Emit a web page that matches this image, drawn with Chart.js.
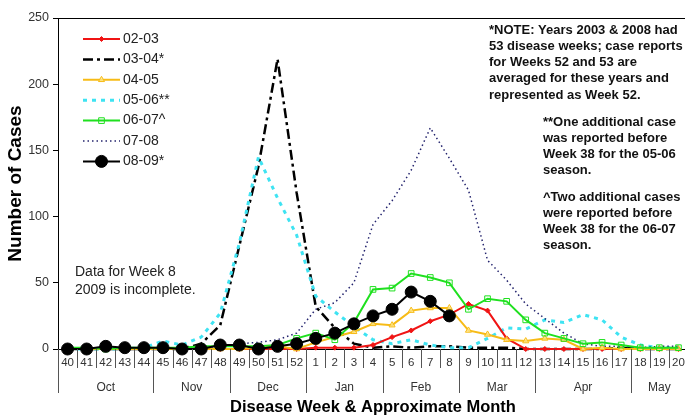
<!DOCTYPE html>
<html>
<head>
<meta charset="utf-8">
<script src="https://cdn.jsdelivr.net/npm/chart.js@4.4.1/dist/chart.umd.min.js"></script>
<style>
  html, body { margin: 0; padding: 0; background: #fff; overflow: hidden; }
  #wrap { width: 695px; height: 417px; }
</style>
</head>
<body>
<div id="wrap"><canvas id="casesChart" width="695" height="417"></canvas></div>
<script>
// disease weeks 40..52 then 1..20
const weeks = ['40','41','42','43','44','45','46','47','48','49','50','51','52',
               '1','2','3','4','5','6','7','8','9','10','11','12','13','14','15','16','17','18','19','20'];
const monthNames = ['Oct', 'Nov', 'Dec', 'Jan', 'Feb', 'Mar', 'Apr', 'May'];
const monthSpans = [5, 4, 4, 4, 4, 4, 5, 3];   // weeks per month group

const s0203 = [0,0,0,0,0,0,0,0,0,0,0,0,0, 1,1,1,3,9,14,21,26,34,29,8,0,0,0,0,0,0,0,0,0];
const s0304 = [0,0,0,0,0,0,0,4,18,78,138,219,118, 32,16,4,1,2,1,2,2,1,1,1,0,0,0,0,0,1,0,0,0];
const s0405 = [0,0,0,0,0,0,0,0,0,0,1,2,0, 5,9,13,19,18,29,31,31,14,11,7,6,8,7,0,1,0,0,0,0];
const s0506 = [0,0,0,0,1,6,3,9,27,80,145,114,86, 40,28,17,7,4,7,3,1,1,8,16,15,22,20,26,22,9,3,1,1];
const s0607 = [1,1,0,1,1,1,1,2,2,2,2,3,8, 12,7,20,45,46,57,54,50,30,38,36,22,12,8,4,5,3,1,1,1];
const s0708 = [0,0,0,0,0,0,1,1,2,4,5,7,12, 30,35,50,94,112,135,167,144,120,67,52,34,23,12,4,2,2,1,2,2];
const s0809 = [0,0,2,1,1,1,0,0,3,3,0,2,4, 8,12,19,25,30,43,36,25,null,null,null,null,null,null,null,null,null,null,null,null];

const noteMain = ['*NOTE: Years 2003 & 2008 had', '53 disease weeks; case reports',
                  'for Weeks 52 and 53 are', 'averaged for these years and', 'represented as Week 52.'];
const note0506 = ['**One additional case', 'was reported before', 'Week 38 for the 05-06', 'season.'];
const note0607 = ['^Two additional cases', 'were reported before', 'Week 38 for the 06-07', 'season.'];
const noteWeek8 = ['Data for Week 8', '2009 is incomplete.'];

const FONT = 'Arial, "Liberation Sans", Helvetica, sans-serif';

function drawLines(ctx, lines, x, y, step) {
    lines.forEach((t, i) => ctx.fillText(t, x, y + i * step));
}

// month row, dividers, top border, notes and the legend inside the plot
const decorPlugin = {
    id: 'decor',
    afterDraw(chart) {
        const ctx = chart.ctx;
        const area = chart.chartArea;
        const xs = chart.scales.x;
        const half = (xs.getPixelForValue(1) - xs.getPixelForValue(0)) / 2;
        const edge = i => xs.getPixelForValue(i) - half;
        ctx.save();

        // top border
        ctx.strokeStyle = '#000';
        ctx.lineWidth = 1;
        ctx.beginPath();
        ctx.moveTo(area.left, area.top + 0.5);
        ctx.lineTo(area.right, area.top + 0.5);
        ctx.stroke();

        // week dividers + month separators
        const monthEdges = [0];
        monthSpans.forEach(n => monthEdges.push(monthEdges[monthEdges.length - 1] + n));
        ctx.strokeStyle = '#555';
        for (let i = 0; i <= weeks.length; i++) {
            const x = Math.round(edge(i)) + 0.5;
            const long = monthEdges.includes(i);
            ctx.beginPath();
            ctx.moveTo(x, area.bottom);
            ctx.lineTo(x, area.bottom + (long ? 44 : 19));
            ctx.stroke();
        }

        // month labels
        ctx.fillStyle = '#333';
        ctx.font = '12px ' + FONT;
        ctx.textAlign = 'center';
        ctx.textBaseline = 'middle';
        monthNames.forEach((m, k) => {
            ctx.fillText(m, (edge(monthEdges[k]) + edge(monthEdges[k + 1])) / 2, area.bottom + 39);
        });

        // notes
        ctx.textAlign = 'left';
        ctx.fillStyle = '#111';
        ctx.font = 'bold 13px ' + FONT;
        drawLines(ctx, noteMain, 489, 30, 16.25);
        drawLines(ctx, note0506, 543, 122, 16.25);
        drawLines(ctx, note0607, 543, 197, 16.25);
        ctx.font = '14px ' + FONT;
        ctx.fillStyle = '#222';
        drawLines(ctx, noteWeek8, 75, 272, 18);

        // legend
        const lx = area.left + 25, ly = area.top + 21;
        chart.data.datasets.forEach((ds, i) => {
            const y = ly + i * 20.4;
            ctx.strokeStyle = ds.borderColor;
            ctx.lineWidth = ds.borderWidth;
            ctx.setLineDash(ds.borderDash || []);
            ctx.beginPath();
            ctx.moveTo(lx, y);
            ctx.lineTo(lx + 37, y);
            ctx.stroke();
            ctx.setLineDash([]);
            if (ds.pointRadius > 0) {
                ctx.fillStyle = ds.pointBackgroundColor;
                ctx.strokeStyle = ds.pointBorderColor;
                ctx.lineWidth = ds.pointBorderWidth;
                Chart.helpers.drawPoint(ctx, {
                    pointStyle: ds.pointStyle, rotation: 0,
                    radius: ds.pointRadius, borderWidth: ds.pointBorderWidth
                }, lx + 18.5, y);
            }
            ctx.fillStyle = '#222';
            ctx.font = '14px ' + FONT;
            ctx.textBaseline = 'middle';
            ctx.fillText(ds.label, lx + 40, y);
        });
        ctx.restore();
    }
};

function series(label, data, color, width, dash, style, radius, fill, order) {
    return {
        label: label, data: data, borderColor: color, borderWidth: width, borderDash: dash,
        pointStyle: style, pointRadius: radius, pointHoverRadius: radius,
        pointBackgroundColor: fill, pointBorderColor: color, pointBorderWidth: 1,
        tension: 0, fill: false, clip: false, order: order, spanGaps: false
    };
}

new Chart(document.getElementById('casesChart'), {
    type: 'line',
    data: {
        labels: weeks,
        datasets: [
            series('02-03', s0203, '#f01414', 2, [], 'rectRot', 2.5, '#f01414', 3),
            series('03-04*', s0304, '#000000', 2.5, [10, 4, 3, 4], 'circle', 0, '#000', 6),
            series('04-05', s0405, '#f7bb16', 2, [], 'triangle', 3.5, 'rgba(255,235,150,0.7)', 2),
            series('05-06**', s0506, '#3ee3f2', 3, [4, 5], 'circle', 0, '#3ee3f2', 5),
            series('06-07^', s0607, '#1fe01f', 2, [], 'rect', 4, 'rgba(255,255,255,0)', 1),
            series('07-08', s0708, '#24246e', 1.5, [1.5, 3], 'circle', 0, '#24246e', 4),
            series('08-09*', s0809, '#000000', 2, [], 'circle', 6, '#000000', 0)
        ]
    },
    options: {
        responsive: false,
        animation: false,
        events: [],
        layout: { padding: { top: 18, left: 0, right: 0, bottom: 0 } },
        plugins: { legend: { display: false }, tooltip: { enabled: false } },
        scales: {
            x: {
                type: 'category',
                offset: true,
                grid: { display: true, drawOnChartArea: false, drawTicks: false, offset: true },
                border: { color: '#000', width: 1 },
                ticks: { font: { size: 11.5, family: FONT }, color: '#333', padding: 7,
                         maxRotation: 0, autoSkip: false },
                title: { display: true, text: 'Disease Week & Approximate Month',
                         font: { size: 16.5, weight: 'bold', family: FONT }, color: '#000',
                         padding: { top: 0, bottom: 0 } },
                afterFit: s => { s.height = 68; }
            },
            y: {
                min: 0, max: 250,
                grid: { drawOnChartArea: false, tickLength: 5, color: '#000' },
                border: { color: '#000', width: 1 },
                ticks: { stepSize: 50, font: { size: 12.5, family: FONT }, color: '#333', padding: 4 },
                title: { display: true, text: 'Number of Cases',
                         font: { size: 19, weight: 'bold', family: FONT }, color: '#000',
                         padding: { top: 4, bottom: 0 } },
                afterFit: s => { s.width = 58; }
            }
        }
    },
    plugins: [decorPlugin]
});
</script>
</body>
</html>
